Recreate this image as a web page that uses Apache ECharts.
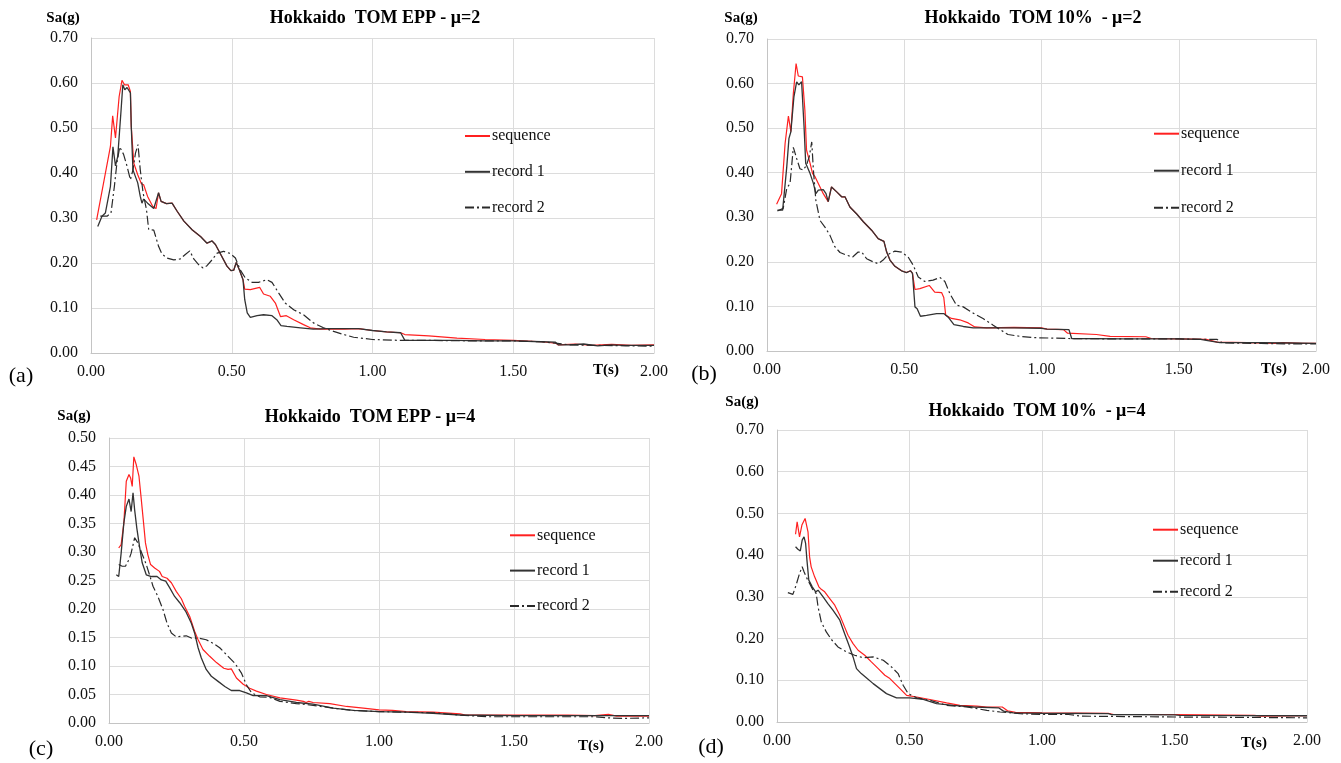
<!DOCTYPE html>
<html><head><meta charset="utf-8">
<script src="https://cdn.jsdelivr.net/npm/echarts@6/dist/echarts.min.js"></script>
<style>html,body{margin:0;padding:0;background:#fff}#c{width:1341px;height:763px}</style>
</head><body><div id="c"></div>
<script>
// ---------- DATA: [T (s), Sa (g)] ----------
const seriesNames = ['sequence', 'record 1', 'record 2'];
const panelTitles = ['Hokkaido  TOM EPP - \u03bc=2', 'Hokkaido  TOM 10%  - \u03bc=2', 'Hokkaido  TOM EPP - \u03bc=4', 'Hokkaido  TOM 10%  - \u03bc=4'];
const panelTags = ['(a)', '(b)', '(c)', '(d)'];
const xTicks = [0, 0.5, 1.0, 1.5, 2.0];
const yMaxes = [0.7, 0.7, 0.5, 0.7];
const yIntervals = [0.1, 0.1, 0.05, 0.1];

const aSeq = [[0.02,0.296],[0.069,0.459],[0.077,0.527],[0.087,0.478],[0.10,0.57],[0.11,0.606],[0.119,0.596],[0.132,0.596],[0.14,0.581],[0.143,0.504],[0.152,0.422],[0.166,0.396],[0.179,0.376],[0.187,0.374],[0.201,0.348],[0.219,0.326],[0.231,0.321],[0.24,0.356],[0.249,0.337],[0.268,0.332],[0.288,0.333],[0.306,0.315],[0.33,0.293],[0.359,0.274],[0.389,0.259],[0.412,0.244],[0.43,0.249],[0.442,0.241],[0.46,0.22],[0.483,0.193],[0.497,0.183],[0.507,0.184],[0.516,0.201],[0.527,0.185],[0.54,0.163],[0.546,0.142],[0.566,0.141],[0.599,0.146],[0.613,0.131],[0.637,0.126],[0.655,0.111],[0.673,0.081],[0.694,0.083],[0.72,0.074],[0.755,0.063],[0.779,0.056],[0.814,0.053],[0.9,0.053],[0.95,0.054],[1.0,0.05],[1.05,0.047],[1.1,0.045],[1.115,0.041],[1.2,0.038],[1.3,0.033],[1.4,0.03],[1.5,0.028],[1.6,0.025],[1.65,0.022],[1.66,0.018],[1.72,0.02],[1.78,0.017],[1.85,0.019],[1.92,0.017],[2.0,0.018]];
const aRec1 = [[0.024,0.281],[0.039,0.304],[0.051,0.311],[0.069,0.37],[0.078,0.458],[0.087,0.416],[0.095,0.437],[0.107,0.541],[0.113,0.596],[0.12,0.585],[0.128,0.59],[0.14,0.578],[0.143,0.504],[0.149,0.407],[0.166,0.378],[0.175,0.348],[0.181,0.333],[0.187,0.342],[0.201,0.333],[0.223,0.321],[0.24,0.356],[0.249,0.337],[0.268,0.332],[0.288,0.333],[0.306,0.315],[0.33,0.293],[0.359,0.274],[0.389,0.259],[0.412,0.244],[0.43,0.249],[0.442,0.241],[0.46,0.22],[0.483,0.193],[0.497,0.183],[0.507,0.184],[0.516,0.201],[0.527,0.185],[0.54,0.163],[0.546,0.119],[0.555,0.089],[0.566,0.079],[0.59,0.083],[0.613,0.085],[0.643,0.083],[0.66,0.074],[0.675,0.061],[0.696,0.059],[0.744,0.056],[0.79,0.053],[0.838,0.054],[0.95,0.054],[1.0,0.05],[1.05,0.047],[1.1,0.045],[1.115,0.028],[1.2,0.028],[1.3,0.028],[1.4,0.027],[1.5,0.027],[1.6,0.025],[1.65,0.024],[1.66,0.018],[1.7,0.018],[1.75,0.02],[1.8,0.016],[1.85,0.018],[1.9,0.017],[2.0,0.017]];
const aRec2 = [[0.033,0.304],[0.057,0.304],[0.071,0.311],[0.083,0.37],[0.092,0.422],[0.102,0.458],[0.116,0.441],[0.128,0.415],[0.14,0.385],[0.149,0.407],[0.158,0.444],[0.167,0.463],[0.175,0.407],[0.185,0.356],[0.197,0.319],[0.205,0.274],[0.223,0.273],[0.24,0.237],[0.252,0.22],[0.27,0.211],[0.294,0.207],[0.317,0.209],[0.335,0.219],[0.351,0.227],[0.365,0.209],[0.383,0.196],[0.398,0.189],[0.412,0.194],[0.43,0.207],[0.448,0.222],[0.471,0.226],[0.495,0.221],[0.513,0.211],[0.53,0.185],[0.548,0.167],[0.572,0.157],[0.595,0.157],[0.625,0.163],[0.643,0.157],[0.667,0.133],[0.69,0.111],[0.72,0.096],[0.755,0.085],[0.79,0.067],[0.826,0.056],[0.862,0.048],[0.898,0.041],[0.933,0.035],[1.0,0.03],[1.1,0.028],[1.2,0.028],[1.35,0.027],[1.5,0.027],[1.6,0.025],[1.65,0.022],[1.7,0.018],[1.8,0.017],[1.9,0.016],[2.0,0.015]];

const bSeq = [[0.035,0.329],[0.053,0.353],[0.066,0.466],[0.078,0.527],[0.087,0.492],[0.096,0.578],[0.106,0.645],[0.114,0.617],[0.129,0.615],[0.138,0.54],[0.144,0.451],[0.157,0.421],[0.166,0.398],[0.175,0.391],[0.19,0.372],[0.205,0.353],[0.223,0.335],[0.235,0.368],[0.254,0.357],[0.272,0.346],[0.284,0.346],[0.302,0.323],[0.326,0.308],[0.351,0.29],[0.381,0.271],[0.405,0.252],[0.426,0.246],[0.436,0.222],[0.448,0.204],[0.466,0.19],[0.49,0.18],[0.508,0.176],[0.523,0.18],[0.53,0.174],[0.539,0.138],[0.557,0.14],[0.591,0.147],[0.611,0.132],[0.636,0.131],[0.644,0.12],[0.651,0.08],[0.672,0.073],[0.702,0.07],[0.733,0.063],[0.757,0.054],[0.8,0.052],[0.9,0.053],[1.0,0.052],[1.02,0.049],[1.08,0.048],[1.095,0.04],[1.2,0.037],[1.25,0.033],[1.38,0.032],[1.4,0.028],[1.5,0.027],[1.6,0.026],[1.64,0.02],[1.75,0.019],[1.85,0.017],[1.88,0.019],[1.95,0.017],[2.0,0.017]];
const bRec1 = [[0.038,0.316],[0.057,0.316],[0.072,0.413],[0.08,0.477],[0.087,0.492],[0.098,0.57],[0.108,0.604],[0.116,0.597],[0.126,0.604],[0.135,0.503],[0.141,0.421],[0.157,0.398],[0.169,0.376],[0.178,0.353],[0.187,0.361],[0.205,0.362],[0.215,0.353],[0.223,0.335],[0.235,0.368],[0.254,0.357],[0.272,0.346],[0.284,0.346],[0.302,0.323],[0.326,0.308],[0.351,0.29],[0.381,0.271],[0.405,0.252],[0.426,0.246],[0.436,0.222],[0.448,0.204],[0.466,0.19],[0.49,0.18],[0.508,0.176],[0.523,0.18],[0.53,0.174],[0.539,0.099],[0.547,0.095],[0.559,0.078],[0.581,0.08],[0.618,0.084],[0.644,0.084],[0.66,0.076],[0.681,0.059],[0.715,0.055],[0.751,0.052],[0.9,0.052],[1.0,0.051],[1.02,0.049],[1.1,0.048],[1.11,0.028],[1.3,0.027],[1.5,0.027],[1.58,0.026],[1.6,0.024],[1.65,0.019],[1.8,0.019],[1.9,0.018],[2.0,0.017]];
const bRec2 = [[0.038,0.314],[0.059,0.32],[0.072,0.365],[0.084,0.376],[0.096,0.457],[0.108,0.432],[0.12,0.409],[0.132,0.406],[0.144,0.417],[0.154,0.436],[0.163,0.469],[0.169,0.406],[0.178,0.338],[0.193,0.293],[0.211,0.278],[0.229,0.26],[0.247,0.234],[0.266,0.221],[0.29,0.215],[0.312,0.211],[0.332,0.222],[0.345,0.222],[0.363,0.207],[0.387,0.2],[0.405,0.196],[0.423,0.204],[0.442,0.217],[0.466,0.224],[0.49,0.222],[0.514,0.211],[0.533,0.192],[0.551,0.166],[0.575,0.156],[0.605,0.159],[0.63,0.165],[0.648,0.156],[0.666,0.129],[0.69,0.103],[0.715,0.099],[0.751,0.085],[0.787,0.073],[0.824,0.058],[0.854,0.046],[0.878,0.037],[0.921,0.033],[0.969,0.03],[1.1,0.028],[1.3,0.027],[1.5,0.027],[1.64,0.026],[1.66,0.018],[1.8,0.017],[1.9,0.016],[2.0,0.016]];

const cSeq = [[0.036,0.307],[0.045,0.313],[0.055,0.351],[0.064,0.424],[0.074,0.436],[0.08,0.43],[0.086,0.415],[0.092,0.467],[0.101,0.453],[0.111,0.433],[0.119,0.395],[0.128,0.351],[0.135,0.316],[0.144,0.295],[0.154,0.278],[0.169,0.272],[0.187,0.266],[0.197,0.257],[0.215,0.254],[0.231,0.246],[0.249,0.231],[0.268,0.218],[0.28,0.205],[0.299,0.187],[0.317,0.161],[0.33,0.146],[0.348,0.129],[0.373,0.117],[0.398,0.106],[0.425,0.096],[0.441,0.094],[0.453,0.095],[0.472,0.079],[0.497,0.068],[0.521,0.061],[0.546,0.056],[0.583,0.05],[0.633,0.044],[0.694,0.04],[0.72,0.038],[0.73,0.036],[0.74,0.038],[0.756,0.036],[0.818,0.034],[0.88,0.029],[0.942,0.026],[1.0,0.023],[1.05,0.022],[1.1,0.02],[1.2,0.019],[1.3,0.016],[1.32,0.014],[1.5,0.014],[1.7,0.014],[1.8,0.013],[1.85,0.015],[1.88,0.012],[2.0,0.012]];
const cRec1 = [[0.027,0.26],[0.036,0.257],[0.045,0.298],[0.055,0.351],[0.064,0.38],[0.074,0.393],[0.082,0.371],[0.089,0.404],[0.095,0.374],[0.103,0.342],[0.113,0.31],[0.123,0.281],[0.138,0.26],[0.157,0.257],[0.178,0.257],[0.194,0.251],[0.21,0.249],[0.225,0.237],[0.243,0.222],[0.262,0.211],[0.284,0.196],[0.305,0.175],[0.317,0.158],[0.33,0.132],[0.342,0.114],[0.36,0.094],[0.379,0.082],[0.404,0.073],[0.429,0.064],[0.453,0.057],[0.484,0.057],[0.509,0.053],[0.534,0.048],[0.583,0.048],[0.633,0.041],[0.694,0.036],[0.756,0.033],[0.83,0.026],[0.905,0.022],[1.0,0.02],[1.1,0.019],[1.2,0.017],[1.3,0.014],[1.5,0.013],[1.8,0.013],[2.0,0.013]];
const cRec2 = [[0.036,0.278],[0.049,0.275],[0.061,0.275],[0.074,0.287],[0.082,0.298],[0.095,0.325],[0.107,0.316],[0.119,0.301],[0.138,0.278],[0.15,0.26],[0.163,0.24],[0.181,0.222],[0.2,0.199],[0.215,0.175],[0.231,0.158],[0.249,0.151],[0.268,0.152],[0.286,0.153],[0.305,0.149],[0.33,0.149],[0.36,0.146],[0.385,0.14],[0.41,0.132],[0.441,0.117],[0.466,0.105],[0.49,0.088],[0.509,0.067],[0.528,0.053],[0.558,0.046],[0.595,0.045],[0.633,0.038],[0.694,0.034],[0.756,0.031],[0.83,0.026],[0.905,0.022],[1.0,0.02],[1.2,0.018],[1.3,0.014],[1.4,0.011],[1.8,0.011],[1.85,0.009],[1.9,0.008],[2.0,0.009]];

const dSeq = [[0.07,0.45],[0.076,0.48],[0.085,0.444],[0.094,0.472],[0.106,0.488],[0.117,0.456],[0.123,0.396],[0.129,0.372],[0.142,0.348],[0.158,0.324],[0.167,0.318],[0.18,0.312],[0.199,0.296],[0.218,0.28],[0.237,0.256],[0.255,0.228],[0.268,0.208],[0.287,0.188],[0.306,0.172],[0.331,0.16],[0.356,0.144],[0.382,0.128],[0.407,0.112],[0.426,0.104],[0.445,0.092],[0.464,0.08],[0.489,0.064],[0.527,0.06],[0.577,0.054],[0.64,0.046],[0.69,0.04],[0.754,0.038],[0.792,0.036],[0.85,0.036],[0.87,0.027],[0.9,0.023],[1.0,0.022],[1.25,0.021],[1.27,0.018],[1.5,0.018],[1.8,0.016],[1.83,0.014],[2.0,0.015]];
const dRec1 = [[0.07,0.42],[0.079,0.414],[0.088,0.41],[0.095,0.436],[0.102,0.444],[0.108,0.428],[0.113,0.388],[0.12,0.34],[0.133,0.324],[0.146,0.312],[0.155,0.316],[0.174,0.3],[0.192,0.284],[0.211,0.268],[0.237,0.244],[0.255,0.212],[0.274,0.18],[0.287,0.156],[0.3,0.128],[0.318,0.116],[0.337,0.106],[0.363,0.092],[0.388,0.08],[0.413,0.068],[0.451,0.058],[0.501,0.058],[0.552,0.054],[0.602,0.044],[0.665,0.04],[0.741,0.036],[0.836,0.034],[0.855,0.026],[0.892,0.022],[1.0,0.021],[1.25,0.02],[1.26,0.018],[1.5,0.017],[1.52,0.016],[2.0,0.015]];
const dRec2 = [[0.041,0.31],[0.06,0.306],[0.072,0.328],[0.085,0.356],[0.095,0.372],[0.102,0.36],[0.11,0.348],[0.123,0.332],[0.136,0.316],[0.148,0.308],[0.155,0.276],[0.167,0.24],[0.186,0.216],[0.205,0.198],[0.23,0.18],[0.262,0.168],[0.293,0.16],[0.325,0.154],[0.363,0.156],[0.401,0.148],[0.432,0.132],[0.457,0.116],[0.476,0.088],[0.495,0.068],[0.527,0.058],[0.577,0.052],[0.64,0.04],[0.716,0.036],[0.792,0.028],[0.842,0.024],[0.918,0.02],[0.993,0.018],[1.1,0.018],[1.15,0.014],[1.5,0.012],[1.8,0.011],[2.0,0.01]];

const panelData = [[aSeq, aRec1, aRec2], [bSeq, bRec1, bRec2], [cSeq, cRec1, cRec2], [dSeq, dRec1, dRec2]];

// ---------- LAYOUT ----------
const FONT = '"Liberation Serif", "Times New Roman", serif';
const grids = [
  {left: 91, top: 38, width: 563, height: 315},
  {left: 767, top: 39, width: 549, height: 312},
  {left: 109, top: 438, width: 540, height: 285},
  {left: 777, top: 430, width: 530, height: 292}
];
const legendPos = [
  {left: 464, top: 128, gap: 19.8},
  {left: 1153, top: 125.7, gap: 21},
  {left: 509, top: 527.3, gap: 19.3},
  {left: 1152, top: 521.7, gap: 15}
];
const titlePos = [[375, 18], [1033, 18], [370, 417], [1037, 411]];
const saPos = [[63, 18], [741, 18], [74, 416], [742, 402]];
const tsPos = [[606, 370], [1274, 369], [591, 746], [1254, 743]];
const tagPos = [[21, 376], [704, 374], [41, 749], [711, 747]];
const lineStyles = [
  {color: '#ff2020', width: 1.2, type: 'solid'},
  {color: '#333333', width: 1.3, type: 'solid'},
  {color: '#2a2a2a', width: 1.2, type: [9, 3, 2, 3]}
];

const option = {
  animation: false,
  backgroundColor: '#fff',
  grid: grids.map(g => Object.assign({containLabel: false}, g)),
  xAxis: grids.map((g, i) => ({
    type: 'value', gridIndex: i, min: xTicks[0], max: xTicks[xTicks.length - 1], interval: 0.5,
    axisLine: {show: true, lineStyle: {color: '#c4c4c4', width: 1}},
    axisTick: {show: false},
    splitLine: {show: true, lineStyle: {color: '#dcdcdc', width: 1}},
    axisLabel: {margin: 11, color: '#111', fontFamily: FONT, fontSize: 16, formatter: v => v.toFixed(2)}
  })),
  yAxis: grids.map((g, i) => ({
    type: 'value', gridIndex: i, min: 0, max: yMaxes[i], interval: yIntervals[i],
    axisLine: {show: true, lineStyle: {color: '#c4c4c4', width: 1}},
    axisTick: {show: false},
    splitLine: {show: true, lineStyle: {color: '#dcdcdc', width: 1}},
    axisLabel: {margin: 13, color: '#111', fontFamily: FONT, fontSize: 16, formatter: v => v.toFixed(2)}
  })),
  legend: legendPos.map(p => ({
    left: p.left, top: p.top, orient: 'vertical', itemGap: p.gap, itemWidth: 25, itemHeight: 14,
    padding: 0, selectedMode: false,
    data: seriesNames,
    itemStyle: {opacity: 0},
    lineStyle: {opacity: 1},
    textStyle: {fontFamily: FONT, fontSize: 16, color: '#111', padding: [0, 0, 0, -3]}
  })),
  series: [],
  graphic: []
};

panelData.forEach((sets, p) => {
  sets.forEach((data, k) => {
    option.series.push({
      type: 'line', name: seriesNames[k], xAxisIndex: p, yAxisIndex: p,
      data: data, showSymbol: false, symbol: 'none', z: 3 + k,
      lineStyle: lineStyles[k], itemStyle: {color: lineStyles[k].color}
    });
  });
  option.graphic.push(
    {type: 'text', x: titlePos[p][0], y: titlePos[p][1], style: {text: panelTitles[p], font: 'bold 18px ' + FONT, fill: '#000', align: 'center', verticalAlign: 'middle'}},
    {type: 'text', x: saPos[p][0], y: saPos[p][1], style: {text: 'Sa(g)', font: 'bold 15px ' + FONT, fill: '#000', align: 'center', verticalAlign: 'middle'}},
    {type: 'text', x: tsPos[p][0], y: tsPos[p][1], style: {text: 'T(s)', font: 'bold 15px ' + FONT, fill: '#000', align: 'center', verticalAlign: 'middle'}},
    {type: 'text', x: tagPos[p][0], y: tagPos[p][1], style: {text: panelTags[p], font: '22px ' + FONT, fill: '#000', align: 'center', verticalAlign: 'middle'}}
  );
});

const chart = echarts.init(document.getElementById('c'), null, {renderer: 'canvas'});
chart.setOption(option);
</script>
</body></html>
